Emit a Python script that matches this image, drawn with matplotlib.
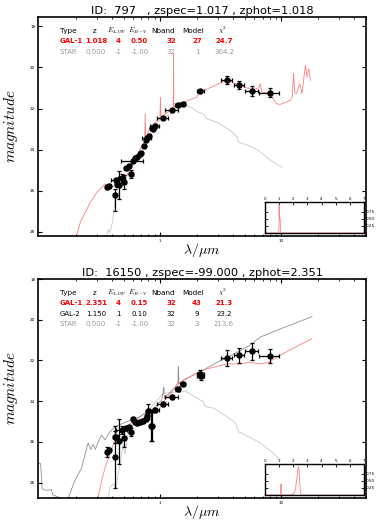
import matplotlib
matplotlib.use("Agg")
import matplotlib.pyplot as plt
import numpy as np

plt.rcParams['mathtext.fontset'] = 'cm'
plt.rcParams['font.family'] = ['DejaVu Sans']

# ---------------- Panel 1 (ID 797) ----------------
title1 = "ID:  797   , zspec=1.017 , zphot=1.018"
lam1 = [0.367, 0.376, 0.424, 0.433, 0.441, 0.458, 0.482, 0.504, 0.524, 0.551, 0.576, 0.595,
        0.618, 0.642, 0.684, 0.700, 0.733, 0.762, 0.776, 0.806, 0.850, 0.875, 0.900, 1.05,
        1.25, 1.40, 1.53, 2.15, 3.56, 4.50, 5.73, 8.00]
mag1 = [25.80, 25.79, 26.21, 25.48, 25.67, 25.72, 25.40, 25.58, 24.88, 24.78, 25.20, 24.57,
        24.39, 24.36, 24.21, 24.16, 23.84, 23.51, 23.43, 23.32, 22.94, 22.99, 22.83, 22.47,
        22.06, 21.85, 21.79, 21.17, 20.60, 20.85, 21.15, 21.23]
xerr1 = [0.01, 0.01, 0.01, 0.04, 0.01, 0.01, 0.03, 0.01, 0.01, 0.01, 0.01, 0.12,
         0.01, 0.01, 0.01, 0.01, 0.01, 0.01, 0.07, 0.01, 0.01, 0.01, 0.07, 0.10,
         0.15, 0.07, 0.07, 0.15, 0.36, 0.45, 0.70, 1.50]
yerr1_lo = [0.10, 0.10, 0.30, 0.10, 0.15, 0.70, 0.22, 0.35, 0.05, 0.05, 0.20, 0.05,
            0.05, 0.05, 0.05, 0.05, 0.05, 0.05, 0.05, 0.05, 0.05, 0.05, 0.05, 0.05,
            0.05, 0.05, 0.05, 0.05, 0.20, 0.20, 0.25, 0.22]
yerr1_hi = [0.10, 0.10, 0.75, 0.10, 0.15, 0.70, 0.22, 0.35, 0.05, 0.05, 0.20, 0.05,
            0.05, 0.05, 0.05, 0.05, 0.05, 0.05, 0.05, 0.05, 0.05, 0.05, 0.05, 0.05,
            0.05, 0.05, 0.05, 0.05, 0.20, 0.20, 0.25, 0.22]

gal1_lam = [0.204, 0.22, 0.24, 0.265, 0.30, 0.35, 0.386, 0.42, 0.46, 0.53, 0.64, 0.745, 0.752, 0.752,
            0.758, 0.83, 0.995, 1.005, 1.005, 1.015, 1.21, 1.283, 1.288, 1.288, 1.295, 1.37, 1.56,
            2.0, 2.14, 3.56, 4.58, 5.73, 6.5, 6.7, 6.9, 8.1, 9.1, 9.8, 11.9, 12.3, 12.6, 12.9,
            13.3, 14.2, 14.8, 15.8, 16.3, 16.8, 17.4]
gal1_mag = [28.20, 27.50, 27.06, 26.57, 26.08, 25.67, 25.76, 25.80, 25.55, 25.27, 24.30, 23.55, 22.24, 22.24,
            23.46, 22.90, 22.45, 21.45, 21.45, 22.42, 22.10, 21.95, 19.33, 19.33, 21.92, 21.85, 21.70,
            21.45, 21.20, 20.63, 20.88, 21.09, 21.00, 20.80, 21.20, 21.28, 21.77, 21.80, 21.60, 21.45, 20.30, 21.20,
            21.28, 20.80, 21.28, 19.90, 20.47, 20.06, 20.63]

star1_lam = [0.358, 0.374, 0.385, 0.406, 0.424, 0.467, 0.547, 0.64, 0.776, 0.94, 1.21, 1.51, 1.77,
             2.07, 2.28, 2.43, 2.94, 3.79, 4.30, 4.44, 5.37, 6.5, 8.1, 10.1]
star1_mag = [28.28, 27.87, 28.05, 27.46, 26.40, 25.92, 25.10, 24.30, 23.48, 22.67, 22.26, 21.77, 21.93,
             22.18, 22.26, 22.50, 22.67, 23.07, 23.37, 23.64, 23.80, 24.05, 24.50, 24.86]

pdz1_z = [0.0, 0.97, 0.99, 1.00, 1.02, 1.03, 1.04, 1.07, 1.09, 1.11, 7.0]
pdz1_p = [0.0, 0.0, 0.3, 1.0, 0.6, 0.5, 0.5, 0.5, 0.2, 0.0, 0.0]

tab1 = [("GAL-1", "1.018", "4", "0.50", "32", "27", "24.7", "red", "bold"),
        ("STAR", "0.000", "-1", "-1.00", "32", "1", "304.2", "#999999", "normal")]

# ---------------- Panel 2 (ID 16150) ----------------
title2 = "ID:  16150 , zspec=-99.000 , zphot=2.351"
lam2 = [0.367, 0.376, 0.420, 0.424, 0.433, 0.460, 0.480, 0.500, 0.520, 0.550, 0.570, 0.600,
        0.620, 0.640, 0.680, 0.720, 0.766, 0.780, 0.790, 0.840, 0.860, 0.900, 1.05, 1.25,
        1.40, 1.53, 2.15, 2.17, 3.56, 4.50, 5.73, 8.00]
mag2 = [26.48, 26.40, 25.74, 26.74, 25.76, 25.97, 25.40, 25.81, 25.32, 25.27, 25.50, 24.88,
        25.04, 25.07, 25.04, 24.96, 24.88, 24.73, 24.50, 25.20, 25.20, 24.42, 24.15, 23.80,
        23.41, 23.15, 22.68, 22.75, 21.89, 21.75, 21.55, 21.78]
xerr2 = [0.01, 0.01, 0.01, 0.01, 0.01, 0.01, 0.05, 0.01, 0.01, 0.01, 0.01, 0.01,
         0.01, 0.01, 0.01, 0.01, 0.01, 0.01, 0.01, 0.01, 0.01, 0.07, 0.10, 0.15,
         0.07, 0.07, 0.15, 0.15, 0.36, 0.45, 0.70, 1.50]
yerr2 = [0.25, 0.10, 0.30, 1.50, 0.10, 1.10, 0.20, 0.42, 0.10, 0.10, 0.20, 0.10,
         0.10, 0.10, 0.10, 0.10, 0.10, 0.10, 0.35, 0.75, 0.75, 0.10, 0.10, 0.10,
         0.10, 0.10, 0.20, 0.20, 0.40, 0.35, 0.43, 0.35]

gal2a_lam = [0.307, 0.328, 0.35, 0.372, 0.396, 0.42, 0.48, 0.58, 0.747, 0.96, 1.06, 1.24, 1.37,
             1.77, 2.21, 2.76, 3.56, 4.58, 5.53, 6.7, 7.87, 9.5, 11.9, 17.9]
gal2a_mag = [28.76, 27.90, 27.29, 26.82, 26.36, 25.97, 25.58, 25.04, 24.80, 24.50, 24.03, 23.57, 23.18,
             22.79, 22.48, 22.33, 22.17, 22.17, 22.09, 22.17, 22.09, 21.78, 21.47, 20.93]

gal2b_lam = [0.098, 0.103, 0.106, 0.113, 0.127, 0.130, 0.153, 0.174, 0.197, 0.224, 0.254, 0.268,
             0.279, 0.292, 0.305, 0.328, 0.35, 0.385, 0.42, 0.51, 0.66, 0.85, 1.03, 1.07, 1.075,
             1.08, 1.24, 1.40, 1.41, 1.415, 1.43, 1.56, 2.14, 2.94, 3.79, 5.53, 6.7, 10.4, 17.9]
gal2b_mag = [27.06, 27.06, 28.30, 28.37, 28.34, 28.60, 28.76, 28.76, 27.90, 27.29, 26.05, 26.36,
             26.12, 26.36, 26.05, 25.66, 25.89, 25.50, 25.27, 25.04, 24.80, 24.42, 23.95, 23.33, 23.33,
             23.85, 23.49, 23.20, 22.30, 22.30, 23.15, 22.95, 22.56, 22.09, 21.78, 21.24, 20.85, 20.39, 19.85]

star2_lam = [0.372, 0.385, 0.41, 0.43, 0.465, 0.495, 0.51, 0.545, 0.618, 0.747, 0.90, 1.06, 1.46,
             1.61, 1.95, 2.28, 2.35, 2.76, 3.33, 4.17, 4.44, 5.37, 6.7, 8.1, 9.85]
star2_mag = [28.76, 28.20, 28.06, 28.30, 27.13, 26.12, 26.59, 25.58, 24.96, 24.57, 24.10, 23.60, 23.57,
             23.49, 23.80, 24.03, 24.26, 24.34, 24.65, 25.04, 25.50, 25.74, 26.05, 26.43, 26.90]

pdz2_z = [0.0, 1.08, 1.11, 1.13, 1.15, 1.17, 1.20, 1.85, 1.93, 1.97, 2.02, 2.10, 2.18, 2.23, 2.28,
          2.33, 2.37, 2.41, 2.45, 2.50, 2.55, 7.0]
pdz2_p = [0.0, 0.0, 0.20, 0.39, 0.30, 0.10, 0.0, 0.0, 0.04, 0.05, 0.03, 0.10, 0.30, 0.50, 0.70,
          0.95, 1.00, 0.90, 0.50, 0.15, 0.0, 0.0]

tab2 = [("GAL-1", "2.351", "4", "0.15", "32", "43", "21.3", "red", "bold"),
        ("GAL-2", "1.150", "1", "0.10", "32", "9", "23.2", "black", "normal"),
        ("STAR", "0.000", "-1", "-1.00", "32", "3", "213.6", "#999999", "normal")]

# ---------------- Figure ----------------
W, H = 385, 528
fig = plt.figure(figsize=(W / 100, H / 100), dpi=100)


def px2fx(x):
    return (x - 38) / 328.0


def draw_panel(rect, inset_rect, title, lam, mag, xerr, yerr, models, pdz_z, pdz_p, tab,
               ylim, row_y, hdr_y):
    ax = fig.add_axes(rect)
    for lx, ly, col, lw in models:
        ax.plot(lx, ly, color=col, lw=lw, zorder=1)
    ax.errorbar(lam, mag, xerr=xerr, yerr=yerr, fmt='o', color='black', ms=3.6,
                elinewidth=0.9, capsize=1.6, capthick=0.9, zorder=3)
    ax.set_xscale('log')
    ax.set_xlim(0.098, 50)
    ax.set_ylim(*ylim)
    ax.set_yticks([18, 20, 22, 24, 26, 28])
    ax.set_xticks([1, 10])
    ax.set_xticklabels(['1', '10'])
    ax.tick_params(which='both', direction='in', top=True, right=True, labelsize=3, pad=2)
    ax.tick_params(which='major', length=3, width=0.8)
    ax.tick_params(which='minor', length=1.6, width=0.6)
    ax.xaxis.set_minor_formatter(matplotlib.ticker.NullFormatter())
    for s in ax.spines.values():
        s.set_linewidth(1.2)
    ax.set_title(title, fontsize=8.2, pad=2)
    ax.set_ylabel('$magnitude$', fontsize=11, labelpad=7)
    ax.set_xlabel(r'$\lambda/\mu m$', fontsize=10, labelpad=-1)

    # table
    tr = ax.transAxes
    axh_px = rect[3] * H
    top_px = (1 - rect[1] - rect[3]) * H

    def fy(y):
        return 1 - (y - top_px) / axh_px

    hdr = [("Type", 60, 'left'), ("z", 95, 'center'), ("$E_{LAW}$", 117, 'center'),
           ("$E_{B-V}$", 138, 'center'), ("Nband", 163, 'center'), ("Model", 193, 'center'),
           (r"$\chi^2$", 223, 'center')]
    for t, x, ha in hdr:
        ax.text(px2fx(x), fy(hdr_y), t, transform=tr, fontsize=5.2, ha=ha, va='center')
    colx = [(60, 'left'), (96, 'center'), (118, 'center'), (139.5, 'center'), (171, 'center'),
            (197, 'center'), (224, 'center')]
    for r, row in enumerate(tab):
        col, wt = row[7], row[8]
        for (x, ha), t in zip(colx, row[:7]):
            ax.text(px2fx(x), fy(row_y[r]), t, transform=tr, fontsize=5.0, ha=ha, va='center',
                    color=col, fontweight=wt)

    ins = fig.add_axes(inset_rect)
    ins.plot(pdz_z, pdz_p, color='#ff8080', lw=0.6)
    ins.set_xlim(0, 7)
    ins.set_ylim(0, 1.1)
    ins.set_xticks(range(8))
    ins.set_yticks([0.25, 0.5, 0.75])
    ins.set_yticklabels(['0.25', '0.50', '0.75'])
    ins.tick_params(direction='in', labelsize=3, length=2, width=0.6, pad=1,
                    top=True, labeltop=True, bottom=False, labelbottom=False,
                    left=True, labelleft=False, right=True, labelright=True)
    for s in ins.spines.values():
        s.set_linewidth(1.0)
    return ax


rect1 = [38 / W, 1 - 236 / H, 328 / W, 219 / H]
inset1 = [265 / W, 1 - 233 / H, 99 / W, 31 / H]
models1 = [(star1_lam, star1_mag, '#c8c8c8', 0.6),
           (gal1_lam, gal1_mag, '#ff8080', 0.6)]
draw_panel(rect1, inset1, title1, lam1, mag1, xerr1, [yerr1_lo, yerr1_hi], models1,
           pdz1_z, pdz1_p, tab1, (28.2, 17.55), [41.3, 52.0], 30.7)

rect2 = [38 / W, 1 - 498 / H, 328 / W, 219 / H]
inset2 = [265 / W, 1 - 495 / H, 99 / W, 31 / H]
models2 = [(star2_lam, star2_mag, '#c8c8c8', 0.6),
           (gal2b_lam, gal2b_mag, '#909090', 0.6),
           (gal2a_lam, gal2a_mag, '#ff8080', 0.6)]
draw_panel(rect2, inset2, title2, lam2, mag2, xerr2, yerr2, models2,
           pdz2_z, pdz2_p, tab2, (28.75, 18.55), [303.3, 314.0, 324.0], 292.7)

fig.savefig('out.png', dpi=100)
